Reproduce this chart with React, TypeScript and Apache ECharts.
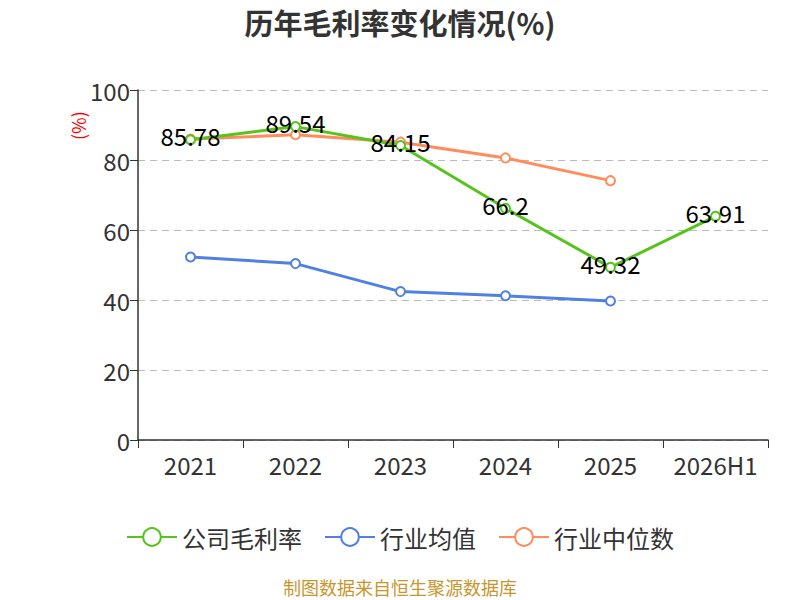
import React, { useEffect, useRef } from 'react';
import * as echarts from 'echarts';

const categories = ['2021', '2022', '2023', '2024', '2025', '2026H1'];
const companyMargin = [85.78, 89.54, 84.15, 66.2, 49.32, 63.91];
const industryAvg = [52.3, 50.4, 42.4, 41.2, 39.7, null];
const industryMedian = [86.0, 87.2, 85.1, 80.6, 74.1, null];
const seriesNames = ['公司毛利率', '行业均值', '行业中位数'];

const FONT = '"Noto Sans CJK SC", "Noto Sans", sans-serif';

export default function App() {
  const chartRef = useRef<HTMLDivElement>(null);

  useEffect(() => {
    document.body.style.margin = '0';
    if (!chartRef.current) return;
    const chart = echarts.init(chartRef.current, null, { renderer: 'svg' });

    const lineSeries = (name: string, data: (number | null)[], color: string, withLabel: boolean) => ({
      name,
      type: 'line',
      data,
      symbol: 'emptyCircle',
      symbolSize: 9,
      lineStyle: { width: 3, color },
      itemStyle: { color, borderWidth: 1.5 },
      label: withLabel
        ? {
            show: true,
            position: 'inside',
            color: '#000',
            fontSize: 24,
            fontFamily: FONT,
            offset: [0, -4],
          }
        : { show: false },
      z: withLabel ? 3 : 2,
    });

    chart.setOption({
      animation: false,
      title: {
        text: '历年毛利率变化情况(%)',
        left: 'center',
        top: 2,
        textStyle: { fontSize: 29, fontWeight: 'bold', color: '#333', fontFamily: FONT },
      },
      grid: { left: 138, right: 32, top: 90, bottom: 160 },
      legend: {
        bottom: 46,
        left: 'center',
        itemWidth: 50,
        itemHeight: 22,
        itemGap: 22,
        textStyle: { fontSize: 24, color: '#333', fontFamily: FONT },
        data: seriesNames,
      },
      graphic: [
        {
          type: 'text',
          x: 69,
          y: 140,
          rotation: Math.PI / 2,
          style: { text: '(%)', fill: '#ff0000', fontSize: 18, fontFamily: FONT },
        },
        {
          type: 'text',
          left: 'center',
          top: 578,
          style: { text: '制图数据来自恒生聚源数据库', fill: '#c9962e', fontSize: 18, fontFamily: FONT },
        },
      ],
      xAxis: {
        type: 'category',
        data: categories,
        boundaryGap: true,
        axisLine: { show: true, lineStyle: { color: '#333', width: 1.5 } },
        axisTick: { show: true, length: 8, lineStyle: { color: '#333' } },
        axisLabel: { interval: 0, fontSize: 24, color: '#333', margin: 12, fontFamily: FONT },
      },
      yAxis: {
        type: 'value',
        min: 0,
        max: 100,
        interval: 20,
        axisLine: { show: true, lineStyle: { color: '#333', width: 1.5 } },
        axisTick: { show: true, length: 8, lineStyle: { color: '#333' } },
        axisLabel: { fontSize: 24, color: '#333', margin: 8, fontFamily: FONT },
        splitLine: { show: true, lineStyle: { type: [7, 5], color: '#bbb', width: 1.2 } },
      },
      series: [
        lineSeries(seriesNames[1], industryAvg, '#4f80e2', false),
        lineSeries(seriesNames[2], industryMedian, '#ff8c5a', false),
        lineSeries(seriesNames[0], companyMargin, '#56c41c', true),
      ],
    });

    return () => {
      chart.dispose();
    };
  }, []);

  return <div ref={chartRef} style={{ width: 800, height: 600 }} />;
}
